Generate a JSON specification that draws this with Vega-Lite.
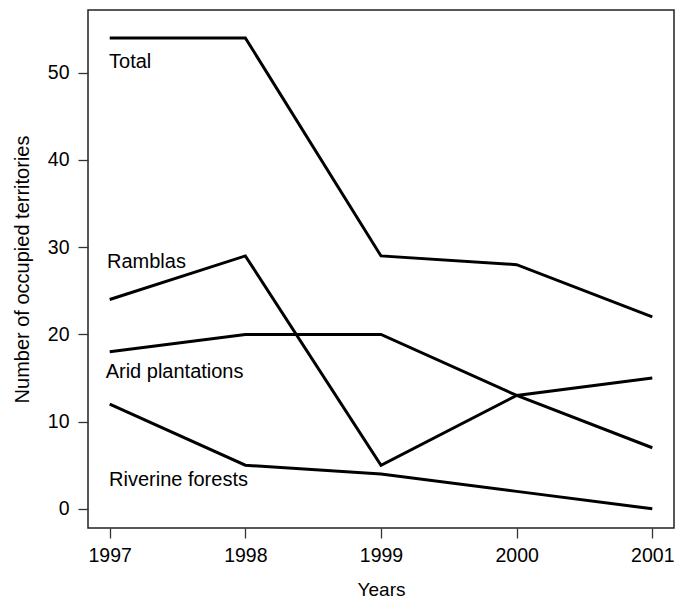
{
  "$schema": "https://vega.github.io/schema/vega-lite/v6.json",
  "width": 586,
  "height": 518,
  "autosize": {"type": "none"},
  "padding": {"left": 88, "top": 10, "right": 2, "bottom": 71},
  "background": "white",
  "config": {
    "view": {"stroke": "#222", "strokeWidth": 1.5},
    "font": "Liberation Sans",
    "axis": {
      "grid": false,
      "domain": false,
      "tickColor": "#333",
      "tickWidth": 1.3,
      "tickSize": 10,
      "labelFont": "Liberation Sans",
      "labelFontSize": 19.5,
      "labelColor": "black",
      "titleFont": "Liberation Sans",
      "titleFontSize": 20,
      "titleFontWeight": "normal",
      "titleColor": "black"
    }
  },
  "datasets": {
    "lines": [
      {"series": "Total", "year": 1997, "value": 54},
      {"series": "Total", "year": 1998, "value": 54},
      {"series": "Total", "year": 1999, "value": 29},
      {"series": "Total", "year": 2000, "value": 28},
      {"series": "Total", "year": 2001, "value": 22},
      {"series": "Ramblas", "year": 1997, "value": 24},
      {"series": "Ramblas", "year": 1998, "value": 29},
      {"series": "Ramblas", "year": 1999, "value": 5},
      {"series": "Ramblas", "year": 2000, "value": 13},
      {"series": "Ramblas", "year": 2001, "value": 15},
      {"series": "Arid plantations", "year": 1997, "value": 18},
      {"series": "Arid plantations", "year": 1998, "value": 20},
      {"series": "Arid plantations", "year": 1999, "value": 20},
      {"series": "Arid plantations", "year": 2000, "value": 13},
      {"series": "Arid plantations", "year": 2001, "value": 7},
      {"series": "Riverine forests", "year": 1997, "value": 12},
      {"series": "Riverine forests", "year": 1998, "value": 5},
      {"series": "Riverine forests", "year": 1999, "value": 4},
      {"series": "Riverine forests", "year": 2000, "value": 2},
      {"series": "Riverine forests", "year": 2001, "value": 0}
    ],
    "labels": [
      {"label": "Total", "year": 1996.995, "value": 50.6},
      {"label": "Ramblas", "year": 1996.98, "value": 27.6},
      {"label": "Arid plantations", "year": 1996.97, "value": 15.0},
      {"label": "Riverine forests", "year": 1996.995, "value": 2.6}
    ]
  },
  "layer": [
    {
      "data": {"name": "lines"},
      "mark": {"type": "line", "color": "black", "strokeWidth": 3, "strokeJoin": "miter"},
      "encoding": {
        "x": {
          "field": "year", "type": "quantitative",
          "scale": {"domain": [1996.84, 2001.16], "nice": false, "zero": false},
          "axis": {"values": [1997, 1998, 1999, 2000, 2001], "format": "d", "title": "Years", "titleFontSize": 19, "labelPadding": 8, "titleY": 67, "titleBaseline": "alphabetic"}
        },
        "y": {
          "field": "value", "type": "quantitative",
          "scale": {"domain": [-2.2, 57.2], "nice": false, "zero": false},
          "axis": {"values": [0, 10, 20, 30, 40, 50], "title": "Number of occupied territories", "labelPadding": 9, "titleX": -60, "titleBaseline": "alphabetic"}
        },
        "detail": {"field": "series"}
      }
    },
    {
      "data": {"name": "labels"},
      "mark": {"type": "text", "align": "left", "baseline": "alphabetic", "fontSize": 20, "font": "Liberation Sans", "color": "black"},
      "encoding": {
        "x": {"field": "year", "type": "quantitative"},
        "y": {"field": "value", "type": "quantitative"},
        "text": {"field": "label"}
      }
    }
  ]
}
